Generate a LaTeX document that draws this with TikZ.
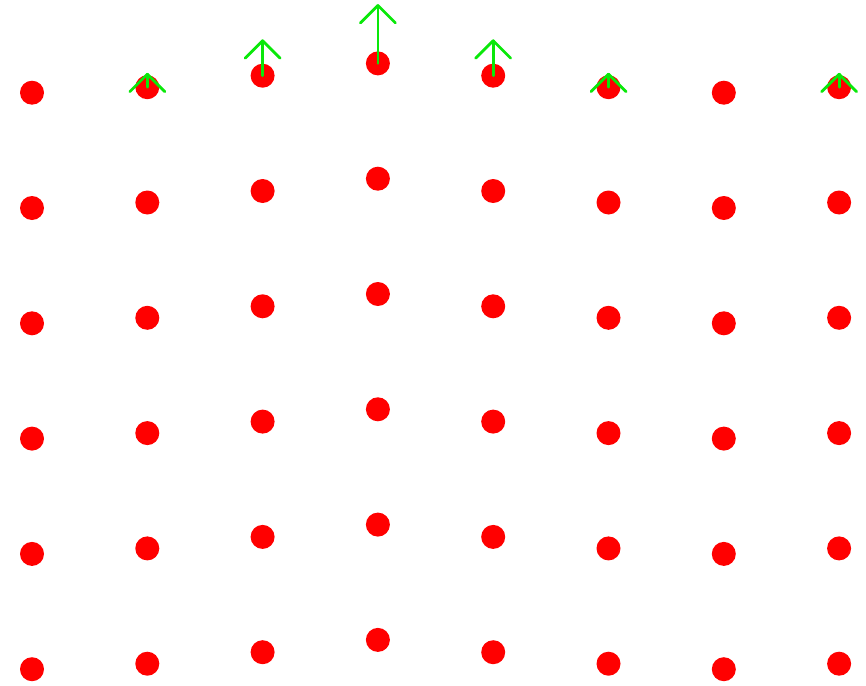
\documentclass[tikz,border=0pt]{standalone}
\usetikzlibrary{calc}
\definecolor{dotred}{RGB}{255,0,0}
\definecolor{velgreen}{RGB}{10,232,10}

\begin{document}
\begin{tikzpicture}[x=1pt, y=-1pt,
    dot/.style={fill=dotred},
    vel/.style={velgreen, line width=2.8pt, line cap=round, line join=round}]
    \useasboundingbox (0,0) rectangle (866,685);

    % particles, column shifted up by \dy
    \foreach \c/\dy in {0/0, 1/5.5, 2/17, 3/29.3, 4/17, 5/5.5, 6/0, 7/5.5}
        \foreach \r in {0,...,5}
            \fill[dot] ({32+115.3*\c},{92.7+115.3*\r-\dy}) circle (12pt);

    % velocity arrows on the top row
    \foreach \c/\dy/\v in {1/5.5/13, 2/17/35, 3/29.3/58, 4/17/35, 5/5.5/13, 7/5.5/13} {
        \coordinate (p-\c) at ({32+115.3*\c},{92.7-\dy});
        \coordinate (t-\c) at ($(p-\c)+(0,-\v)$);
        \draw[vel] (p-\c) -- (t-\c);
        \draw[vel] ($(t-\c)+(-17.5,17.5)$) -- (t-\c) -- ($(t-\c)+(17.5,17.5)$);
    }
\end{tikzpicture}
\end{document}
